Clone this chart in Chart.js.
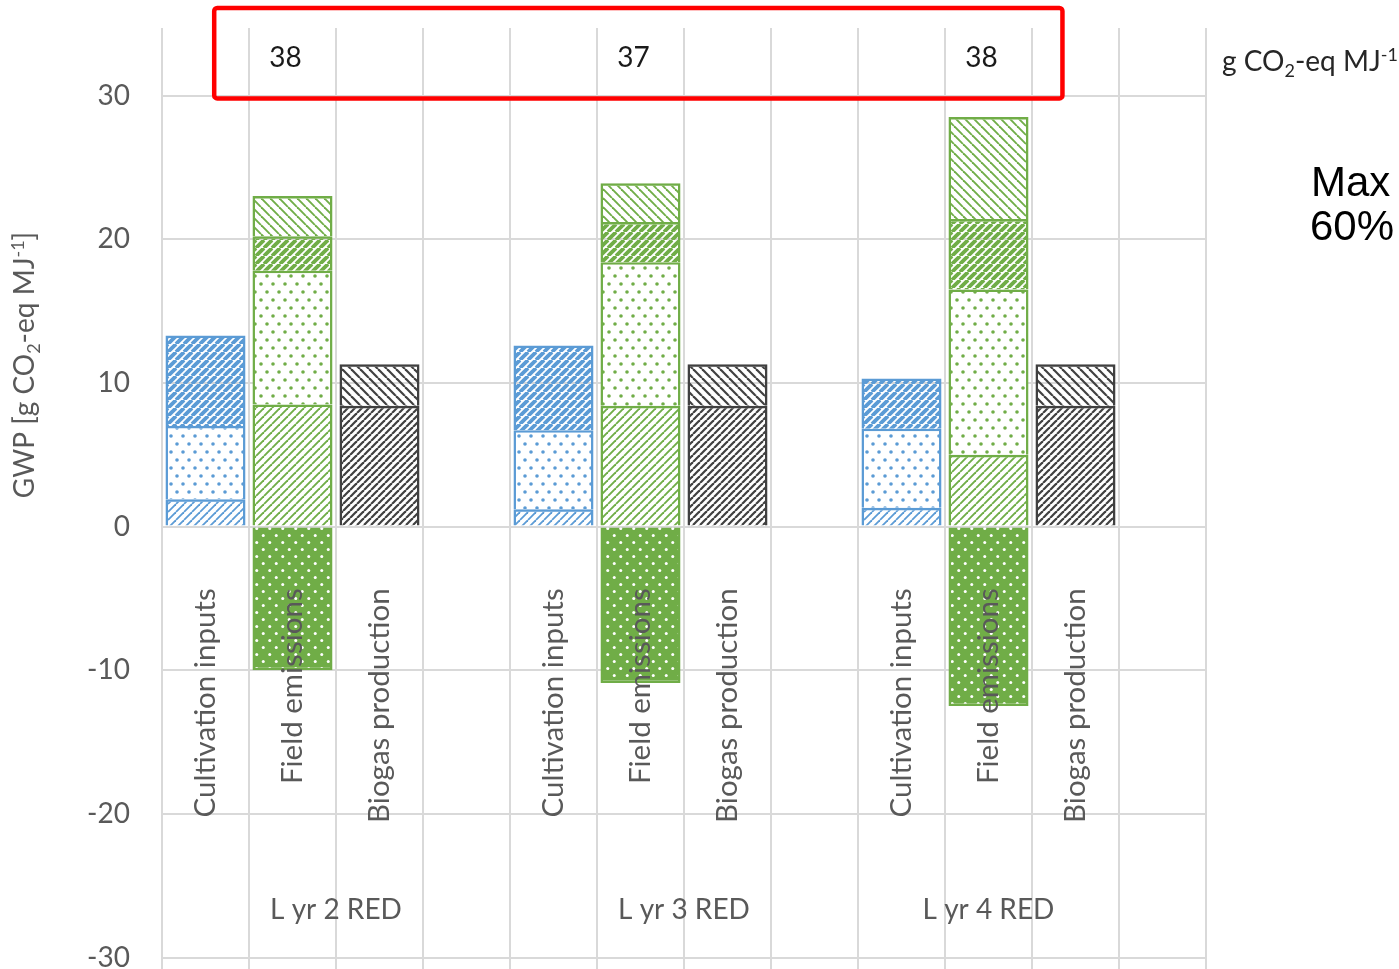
<!DOCTYPE html>
<html>
<head>
<meta charset="utf-8">
<title>GWP by process</title>
<script src="https://cdn.jsdelivr.net/npm/chart.js@4.4.1/dist/chart.umd.min.js"></script>
<style>
  html, body { margin: 0; padding: 0; background: #ffffff; }
  #wrap { width: 1399px; height: 969px; position: relative; }
</style>
</head>
<body>
<div id="wrap"><canvas id="c" width="1399" height="969"></canvas></div>
<script>
// Scenarios and process categories
const scenarios = ['L yr 2 RED', 'L yr 3 RED', 'L yr 4 RED'];
const processes = ['Cultivation inputs', 'Field emissions', 'Biogas production'];
const yTicks = [-30, -20, -10, 0, 10, 20, 30];

// Stacked contributions per scenario [g CO2-eq MJ-1]
const cultivationLower  = [1.9, 1.2, 1.3];
const cultivationMiddle = [5.1, 5.5, 5.5];
const cultivationUpper  = [6.3, 5.9, 3.5];
const fieldLower        = [8.5, 8.4, 5.0];
const fieldMiddle       = [9.3, 10.0, 11.5];
const fieldUpper        = [2.4, 2.8, 4.9];
const fieldTop          = [2.8, 2.7, 7.1];
const fieldNegative     = [-10.0, -10.9, -12.5];
const biogasLower       = [8.4, 8.4, 8.4];
const biogasUpper       = [2.9, 2.9, 2.9];

const BLUE = '#5b9bd5', GREEN = '#70ad47', DARK = '#404040';
const GRID = '#d9d9d9', TEXT = '#595959';
const FONT = 'Lato, "Open Sans", sans-serif';

// Four slots per scenario: three processes plus an empty gap
const SLOTS = processes.length + 1;
const labels = [];
scenarios.forEach(() => { processes.forEach(p => labels.push(p)); labels.push(''); });

function slotData(values, procIndex) {
  const out = new Array(scenarios.length * SLOTS).fill(null);
  values.forEach((v, s) => { out[s * SLOTS + procIndex] = v; });
  return out;
}

// Hatch / dot fills
function stripes(color, period, lw, dir, bg) {
  const c = document.createElement('canvas');
  c.width = c.height = period;
  const g = c.getContext('2d');
  if (bg) { g.fillStyle = bg; g.fillRect(0, 0, period, period); }
  g.strokeStyle = color; g.lineWidth = lw;
  for (let k = -1; k <= 1; k++) {
    g.beginPath();
    if (dir === '/') { g.moveTo(k * period, period); g.lineTo(k * period + period, 0); }
    else { g.moveTo(k * period, 0); g.lineTo(k * period + period, period); }
    g.stroke();
  }
  return g.createPattern(c, 'repeat');
}
function dots(color, bg, w, h, r) {
  const c = document.createElement('canvas');
  c.width = w; c.height = h;
  const g = c.getContext('2d');
  g.fillStyle = bg; g.fillRect(0, 0, w, h);
  g.fillStyle = color;
  [[w * 0.25, h * 0.25], [w * 0.75, h * 0.75]].forEach(([x, y]) => {
    g.beginPath(); g.arc(x, y, r, 0, Math.PI * 2); g.fill();
  });
  return g.createPattern(c, 'repeat');
}

function seg(label, values, procIndex, fill, border) {
  return {
    label, data: slotData(values, procIndex), backgroundColor: fill,
    borderColor: border, borderWidth: 2.5, borderSkipped: 'start',
    stack: 'all', barPercentage: 0.92, categoryPercentage: 1.0
  };
}

// Scenario totals printed above the plot
const totals = scenarios.map((_, s) =>
  [cultivationLower, cultivationMiddle, cultivationUpper, fieldLower, fieldMiddle,
   fieldUpper, fieldTop, fieldNegative, biogasLower, biogasUpper]
    .reduce((acc, arr) => acc + arr[s], 0));

function drawRich(ctx, parts, x, y, size, align) {
  const fontFor = p => (p.sub || p.sup ? Math.round(size * 0.65) : size) + 'px ' + FONT;
  let total = 0;
  parts.forEach(p => { ctx.font = fontFor(p); total += ctx.measureText(p.t).width; });
  let cx = align === 'center' ? x - total / 2 : (align === 'right' ? x - total : x);
  ctx.textAlign = 'left';
  ctx.textBaseline = 'alphabetic';
  parts.forEach(p => {
    ctx.font = fontFor(p);
    const dy = p.sub ? size * 0.2 : (p.sup ? -size * 0.36 : 0);
    ctx.fillText(p.t, cx, y + dy);
    cx += ctx.measureText(p.t).width;
  });
}
const unitParts = [{ t: 'g CO' }, { t: '2', sub: true }, { t: '-eq MJ' }, { t: '-1', sup: true }];

const annotations = {
  id: 'annotations',
  afterDatasetsDraw(chart) {
    const ctx = chart.ctx, xs = chart.scales.x, ys = chart.scales.y;
    const slot = xs.getPixelForValue(1) - xs.getPixelForValue(0);
    const lastIndex = labels.length - 1;
    ctx.save();
    // rotated process labels below the zero line
    ctx.fillStyle = TEXT;
    ctx.font = '29.5px ' + FONT;
    labels.forEach((lab, i) => {
      if (!lab) return;
      ctx.save();
      ctx.translate(xs.getPixelForValue(i), ys.getPixelForValue(-4.3));
      ctx.rotate(-Math.PI / 2);
      ctx.textAlign = 'right';
      ctx.textBaseline = 'middle';
      ctx.fillText(lab, 0, 0);
      ctx.restore();
    });
    // scenario labels, centred over the slots each scenario spans
    ctx.font = '28px ' + FONT;
    ctx.textAlign = 'center';
    ctx.textBaseline = 'alphabetic';
    scenarios.forEach((sc, s) => {
      const first = s * SLOTS;
      const last = Math.min(first + SLOTS - 1, lastIndex - (labels[lastIndex] ? 0 : 1));
      const cx = (xs.getPixelForValue(first) + xs.getPixelForValue(last)) / 2;
      ctx.fillText(sc, cx, ys.getPixelForValue(-27.3));
    });
    // totals
    ctx.fillStyle = '#1a1a1a';
    totals.forEach((t, s) => {
      ctx.fillText(String(Math.round(t)), xs.getPixelForValue(s * SLOTS + 1) - 7, ys.getPixelForValue(32.0));
    });
    // highlight box around the totals
    const left = xs.getPixelForValue(0) + 0.1 * slot;
    const right = xs.getPixelForValue(SLOTS * 2 + 1) + 0.85 * slot;
    const top = ys.getPixelForValue(36.1), bottom = ys.getPixelForValue(29.8);
    ctx.strokeStyle = '#ff0000';
    ctx.lineWidth = 4.5;
    ctx.beginPath();
    ctx.roundRect(left, top, right - left, bottom - top, 3);
    ctx.stroke();
    // unit label on the right
    ctx.fillStyle = '#262626';
    drawRich(ctx, unitParts, chart.chartArea.right + 16, ys.getPixelForValue(31.7), 28, 'left');
    // note text
    ctx.fillStyle = '#000000';
    ctx.font = '42px "Liberation Sans", Arial, sans-serif';
    ctx.textAlign = 'left';
    ctx.fillText('Max', chart.chartArea.right + 105, 196);
    ctx.fillText('60%', chart.chartArea.right + 104, 240);
    // y axis title
    ctx.fillStyle = TEXT;
    ctx.save();
    ctx.translate(34, 365);
    ctx.rotate(-Math.PI / 2);
    drawRich(ctx, [{ t: 'GWP [g CO' }, { t: '2', sub: true }, { t: '-eq MJ' }, { t: '-1', sup: true }, { t: ']' }], 0, 0, 28, 'center');
    ctx.restore();
    ctx.restore();
  }
};

function build() {
  const datasets = [
    seg('Cultivation inputs 1', cultivationLower, 0, stripes(BLUE, 8, 1.8, '/'), BLUE),
    seg('Cultivation inputs 2', cultivationMiddle, 0, dots(BLUE, '#ffffff', 12, 16, 1.8), BLUE),
    seg('Cultivation inputs 3', cultivationUpper, 0, stripes(BLUE, 8, 3.8, '/'), BLUE),
    seg('Field emissions 1', fieldLower, 1, stripes(GREEN, 8, 1.9, '/'), GREEN),
    seg('Field emissions 2', fieldMiddle, 1, dots(GREEN, '#ffffff', 12, 16, 1.8), GREEN),
    seg('Field emissions 3', fieldUpper, 1, stripes(GREEN, 8, 3.8, '/'), GREEN),
    seg('Field emissions 4', fieldTop, 1, stripes(GREEN, 9, 1.9, '\\'), GREEN),
    seg('Field emissions (negative)', fieldNegative, 1, dots('#ffffff', GREEN, 13, 14, 1.5), GREEN),
    seg('Biogas production 1', biogasLower, 2, stripes(DARK, 7, 2.2, '/'), DARK),
    seg('Biogas production 2', biogasUpper, 2, stripes(DARK, 9, 2.2, '\\'), DARK)
  ];

  new Chart(document.getElementById('c'), {
    type: 'bar',
    data: { labels, datasets },
    options: {
      responsive: false,
      animation: false,
      devicePixelRatio: 1,
      layout: { padding: { left: 0, right: 193, top: 28, bottom: 0 } },
      plugins: { legend: { display: false }, tooltip: { enabled: false } },
      scales: {
        x: {
          stacked: true,
          grid: { offset: true, color: GRID, lineWidth: 2, drawTicks: false },
          border: { display: false },
          ticks: { display: false },
          afterFit(scale) {
            scale.height = 0;
            scale.paddingLeft = 0; scale.paddingRight = 0;
            scale.paddingTop = 0; scale.paddingBottom = 0;
          }
        },
        y: {
          stacked: true,
          min: -30.8,
          max: 34.7,
          afterBuildTicks(scale) { scale.ticks = yTicks.map(v => ({ value: v })); },
          grid: { color: GRID, lineWidth: 2, drawTicks: false },
          border: { display: false },
          ticks: { color: TEXT, font: { family: FONT, size: 28 }, padding: 32 },
          afterFit(scale) {
            scale.width = 162;
            scale.paddingTop = 0; scale.paddingBottom = 0;
            scale.paddingLeft = 0; scale.paddingRight = 0;
          }
        }
      }
    },
    plugins: [annotations]
  });
}

(document.fonts && document.fonts.load
  ? Promise.all([document.fonts.load('28px Lato'), document.fonts.load('42px "Liberation Sans"')])
  : Promise.resolve()).then(build, build);
</script>
</body>
</html>
